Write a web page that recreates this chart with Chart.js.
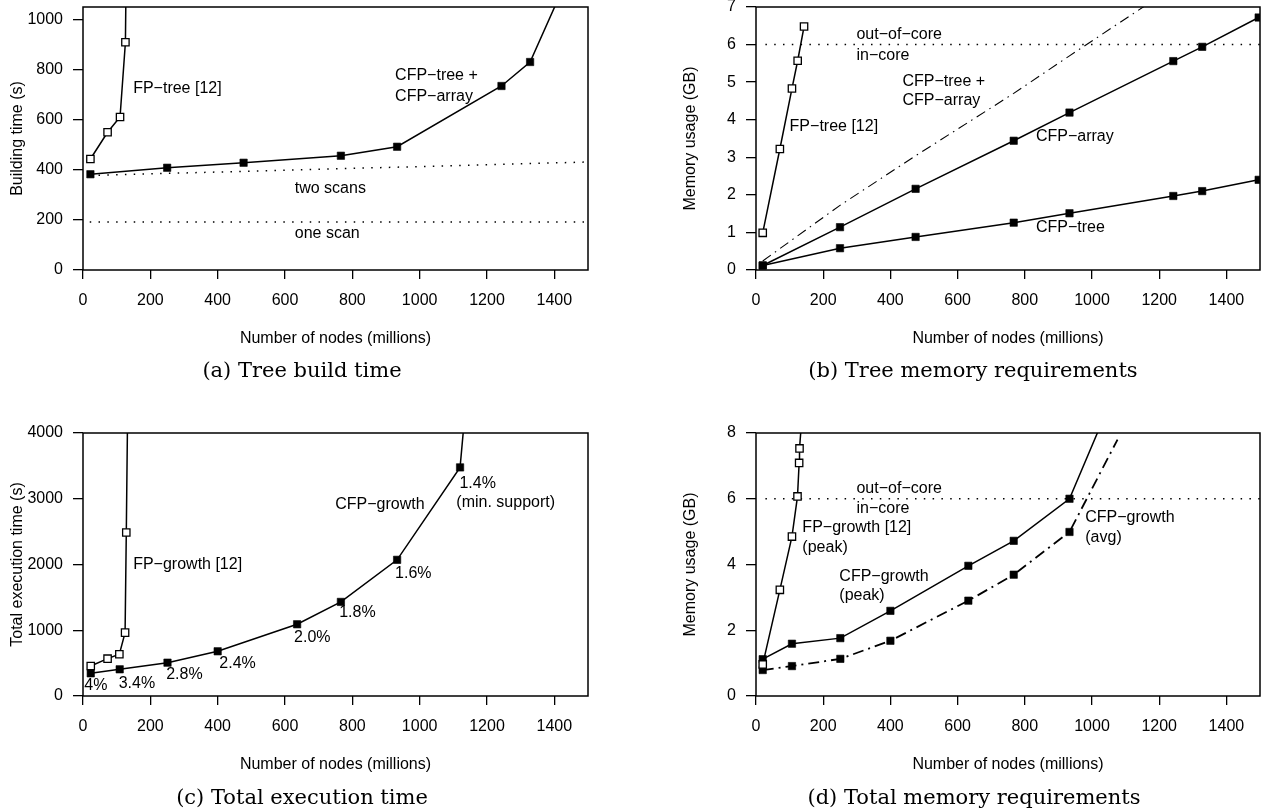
<!DOCTYPE html>
<html>
<head>
<meta charset="utf-8">
<script src="https://cdn.jsdelivr.net/npm/chart.js@4"></script>
<style>
  html, body { margin: 0; padding: 0; background: #fff; overflow: hidden; }
  #page { position: relative; width: 1262px; height: 810px; overflow: hidden; background: #fff; }
  #page canvas { position: absolute; }
  .caption { position: absolute; width: 600px; height: 30px; line-height: 30px; text-align: center;
             font-family: "DejaVu Serif", serif; font-size: 21px; color: #000; white-space: nowrap; }
</style>
</head>
<body>
<div id="page">
  <canvas id="chartA"></canvas>
  <canvas id="chartB"></canvas>
  <canvas id="chartC"></canvas>
  <canvas id="chartD"></canvas>
  <div class="caption" style="left:2px; top:355px">(a) Tree build time</div>
  <div class="caption" style="left:673px; top:355px">(b) Tree memory requirements</div>
  <div class="caption" style="left:2px; top:782px">(c) Total execution time</div>
  <div class="caption" style="left:674px; top:782px">(d) Total memory requirements</div>
</div>
<script>
// x axis shared by the four panels
const nodeTicks = [0, 200, 400, 600, 800, 1000, 1200, 1400];

// (a) tree build time, seconds
const fpTreeNodesA = [22, 73, 110, 126, 129];
const fpTreeTimeA = [444, 551, 612, 911, 1300];
const cfpNodesA = [22, 250, 477, 766, 933, 1243, 1328, 1430];
const cfpTimeA = [383, 409, 429, 457, 493, 736, 832, 1140];
const scanNodes = [20, 1500];
const twoScansTime = [378, 432];
const oneScanTime = [192, 192];
const timeTicksA = [0, 200, 400, 600, 800, 1000];

// (b) tree memory, GB
const fpTreeNodesB = [20, 71, 107, 124, 143];
const fpTreeMemB = [0.99, 3.22, 4.83, 5.57, 6.48];
const cfpNodesB = [20, 250, 475, 767, 933, 1242, 1328, 1496];
const cfpArrayMem = [0.12, 1.14, 2.16, 3.44, 4.19, 5.56, 5.94, 6.72];
const cfpTreeMem = [0.12, 0.58, 0.88, 1.26, 1.51, 1.97, 2.10, 2.40];
const cfpBothMem = [0.24, 1.72, 3.04, 4.70, 5.70, 7.53, 8.04, 9.12];
const coreNodes = [28, 1500];
const coreLimit = [6, 6];
const memTicksB = [0, 1, 2, 3, 4, 5, 6, 7];

// (c) total execution time, seconds
const fpGrowthNodesC = [23, 73, 108, 125, 128.6, 134];
const fpGrowthTimeC = [457, 568, 635, 964, 2487, 5000];
const cfpGrowthNodesC = [23, 109, 251, 400, 636, 766, 933, 1120, 1138];
const cfpGrowthTimeC = [345, 406, 507, 680, 1091, 1431, 2071, 3477, 4500];
const timeTicksC = [0, 1000, 2000, 3000, 4000];

// (d) total memory, GB
const fpGrowthNodesD = [20, 71, 107, 123.5, 128.4, 129.5, 140.5];
const fpGrowthMemD = [0.96, 3.23, 4.85, 6.07, 7.09, 7.53, 9];
const cfpPeakNodes = [20, 107, 251, 400, 632, 767, 933, 1040];
const cfpPeakMem = [1.12, 1.59, 1.76, 2.59, 3.96, 4.72, 6.00, 8.58];
const cfpAvgNodes = [20, 107, 251, 400, 632, 767, 933, 1076];
const cfpAvgMem = [0.79, 0.91, 1.13, 1.68, 2.90, 3.69, 4.99, 7.8];
const memTicksD = [0, 2, 4, 6, 8];

const FONT = '"Liberation Sans", Arial, sans-serif';
Chart.defaults.font.family = FONT;
Chart.defaults.font.size = 16;
Chart.defaults.color = '#000';

// texte libre posé en coordonnées de données
const notesPlugin = {
  id: 'notes',
  afterDatasetsDraw(chart, args, opts) {
    const { ctx, scales: { x, y } } = chart;
    ctx.save();
    ctx.font = '16px ' + FONT;
    ctx.fillStyle = '#000';
    ctx.textAlign = 'left';
    ctx.textBaseline = 'middle';
    (opts.items || []).forEach(n => ctx.fillText(n.text, x.getPixelForValue(n.x), y.getPixelForValue(n.y)));
    ctx.restore();
  }
};

// cadre complet autour de la zone de tracé
const framePlugin = {
  id: 'frame',
  afterDraw(chart) {
    const { ctx, chartArea: a } = chart;
    ctx.save();
    ctx.strokeStyle = '#000';
    ctx.lineWidth = 1.5;
    ctx.strokeRect(a.left, a.top, a.right - a.left, a.bottom - a.top);
    ctx.restore();
  }
};

function series(xs, ys, style) {
  return Object.assign({
    data: xs.map((x, i) => ({ x: x, y: ys[i] })),
    borderColor: '#000', borderWidth: 1.5, pointRadius: 0, tension: 0, fill: false
  }, style || {});
}

function squares(n, marked, hollow) {
  return {
    pointStyle: 'rect',
    pointRadius: Array.from({ length: n }, (_, i) => i < marked ? 5.2 : 0),
    pointBackgroundColor: hollow ? '#fff' : '#000',
    pointBorderColor: '#000',
    pointBorderWidth: hollow ? 1.3 : 0.6
  };
}

const dotted = { borderWidth: 1.5, borderDash: [1.5, 7.3] };

function makePanel(id, box, yTicks, yMax, yTitle, datasets, notes) {
  const canvas = document.getElementById(id);
  const w = box.r - box.l, h = box.b - box.t;
  canvas.width = 83 + w + 20;
  canvas.height = 20 + h + 90;
  canvas.style.left = (box.l - 83) + 'px';
  canvas.style.top = (box.t - 20) + 'px';
  const grid = { display: true, drawOnChartArea: false, drawTicks: true, color: '#000', lineWidth: 1.3 };
  return new Chart(canvas, {
    type: 'line',
    data: { datasets: datasets },
    options: {
      responsive: false,
      animation: false,
      layout: { padding: { left: 0, top: 20, right: 20, bottom: 0 }, autoPadding: false },
      plugins: { legend: { display: false }, tooltip: { enabled: false }, notes: { items: notes } },
      scales: {
        x: {
          type: 'linear', min: 0, max: 1500,
          afterBuildTicks: s => { s.ticks = nodeTicks.map(v => ({ value: v })); },
          afterFit: s => { s.height = 90; },
          grid: Object.assign({ tickLength: 9 }, grid),
          border: { display: false },
          ticks: { padding: 12, maxRotation: 0, autoSkip: false, callback: v => String(v) },
          title: { display: true, text: 'Number of nodes (millions)', padding: { top: 0, bottom: 12 } }
        },
        y: {
          type: 'linear', min: 0, max: yMax,
          afterBuildTicks: s => { s.ticks = yTicks.map(v => ({ value: v })); },
          afterFit: s => { s.width = 83; },
          grid: Object.assign({ tickLength: 10 }, grid),
          border: { display: false },
          ticks: { padding: 10, autoSkip: false, callback: v => String(v) },
          title: { display: true, text: yTitle, padding: { top: 8, bottom: 0 } }
        }
      }
    },
    plugins: [notesPlugin, framePlugin]
  });
}

// (a)
makePanel('chartA', { l: 83, t: 7, r: 588, b: 270 }, timeTicksA, 1052, 'Building time (s)', [
  series(fpTreeNodesA, fpTreeTimeA, squares(fpTreeNodesA.length, 4, true)),
  series(cfpNodesA, cfpTimeA, squares(cfpNodesA.length, 7, false)),
  series(scanNodes, twoScansTime, dotted),
  series(scanNodes, oneScanTime, dotted)
], [
  { text: 'FP−tree [12]', x: 149, y: 724 },
  { text: 'CFP−tree +', x: 927, y: 776 },
  { text: 'CFP−array', x: 927, y: 692 },
  { text: 'two scans', x: 629, y: 324 },
  { text: 'one scan', x: 629, y: 144 }
]);

// (b)
makePanel('chartB', { l: 756, t: 7, r: 1260, b: 270 }, memTicksB, 7, 'Memory usage (GB)', [
  series(fpTreeNodesB, fpTreeMemB, squares(fpTreeNodesB.length, 5, true)),
  series(cfpNodesB, cfpArrayMem, squares(cfpNodesB.length, 8, false)),
  series(cfpNodesB, cfpTreeMem, squares(cfpNodesB.length, 8, false)),
  series(cfpNodesB, cfpBothMem, { borderWidth: 1.1, borderDash: [10, 5, 1.5, 5] }),
  series(coreNodes, coreLimit, dotted)
], [
  { text: 'out−of−core', x: 299, y: 6.27 },
  { text: 'in−core', x: 299, y: 5.70 },
  { text: 'CFP−tree +', x: 436, y: 5.01 },
  { text: 'CFP−array', x: 436, y: 4.52 },
  { text: 'FP−tree [12]', x: 100, y: 3.81 },
  { text: 'CFP−array', x: 833, y: 3.54 },
  { text: 'CFP−tree', x: 833, y: 1.12 }
]);

// (c)
makePanel('chartC', { l: 83, t: 433, r: 588, b: 696 }, timeTicksC, 4000, 'Total execution time (s)', [
  series(fpGrowthNodesC, fpGrowthTimeC, squares(fpGrowthNodesC.length, 5, true)),
  series(cfpGrowthNodesC, cfpGrowthTimeC, squares(cfpGrowthNodesC.length, 8, false))
], [
  { text: 'FP−growth [12]', x: 149, y: 1995 },
  { text: 'CFP−growth', x: 749, y: 2909 },
  { text: '1.4%', x: 1118, y: 3228 },
  { text: '(min. support)', x: 1109, y: 2934 },
  { text: '1.6%', x: 927, y: 1868 },
  { text: '1.8%', x: 761, y: 1269 },
  { text: '2.0%', x: 627, y: 894 },
  { text: '2.4%', x: 405, y: 498 },
  { text: '2.8%', x: 247, y: 320 },
  { text: '3.4%', x: 106, y: 183 },
  { text: '4%', x: 4, y: 157 }
]);

// (d)
makePanel('chartD', { l: 756, t: 433, r: 1260, b: 696 }, memTicksD, 8, 'Memory usage (GB)', [
  series(fpGrowthNodesD, fpGrowthMemD, squares(fpGrowthNodesD.length, 6, true)),
  series(cfpPeakNodes, cfpPeakMem, squares(cfpPeakNodes.length, 7, false)),
  series(cfpAvgNodes, cfpAvgMem, Object.assign({ borderWidth: 1.8, borderDash: [11, 5, 2, 5] }, squares(cfpAvgNodes.length, 7, false))),
  series(coreNodes, coreLimit, dotted)
], [
  { text: 'out−of−core', x: 299, y: 6.31 },
  { text: 'in−core', x: 299, y: 5.70 },
  { text: 'FP−growth [12]', x: 138, y: 5.11 },
  { text: '(peak)', x: 138, y: 4.52 },
  { text: 'CFP−growth', x: 248, y: 3.63 },
  { text: '(peak)', x: 248, y: 3.06 },
  { text: 'CFP−growth', x: 980, y: 5.43 },
  { text: '(avg)', x: 980, y: 4.83 }
]);
</script>
</body>
</html>
